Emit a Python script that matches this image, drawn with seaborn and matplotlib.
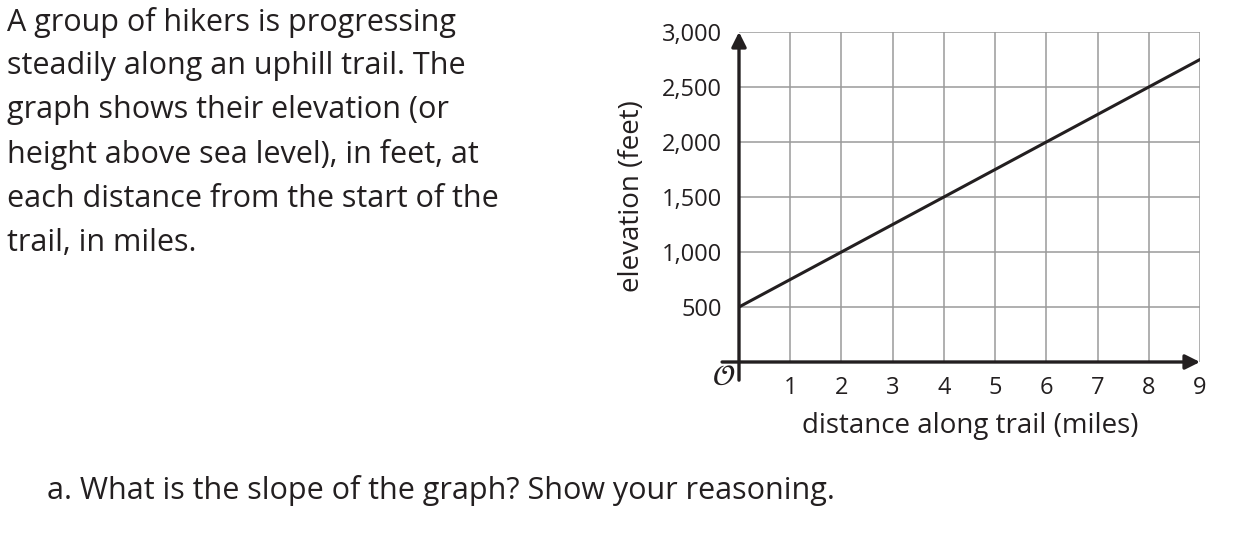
import matplotlib
matplotlib.use("Agg")
import matplotlib.pyplot as plt
import seaborn as sns
import pandas as pd

# Data
distance = [0, 9]
elevation = [500, 2750]
x_ticks = [1, 2, 3, 4, 5, 6, 7, 8, 9]
y_ticks = [500, 1000, 1500, 2000, 2500, 3000]
y_tick_labels = ["500", "1,000", "1,500", "2,000", "2,500", "3,000"]
x_label = "distance along trail (miles)"
y_label = "elevation (feet)"
intro_lines = [
    "A group of hikers is progressing",
    "steadily along an uphill trail. The",
    "graph shows their elevation (or",
    "height above sea level), in feet, at",
    "each distance from the start of the",
    "trail, in miles.",
]
question = "a. What is the slope of the graph? Show your reasoning."

sns.set_style("white")
plt.rcParams['font.family'] = ['Open Sans', 'DejaVu Sans']
TXT = "#231f20"

W, H = 1243, 534
fig = plt.figure(figsize=(W / 100, H / 100), dpi=100)
ax = fig.add_axes([739 / W, 1 - 362 / H, (1200 - 739) / W, (362 - 32) / H])

df = pd.DataFrame({"distance": distance, "elevation": elevation})
sns.lineplot(data=df, x="distance", y="elevation", ax=ax, color=TXT, lw=2.2, zorder=4)

ax.set_xlim(0, 9)
ax.set_ylim(0, 3000)
ax.set_xticks(x_ticks)
ax.set_xticklabels([str(t) for t in x_ticks])
ax.set_yticks(y_ticks)
ax.set_yticklabels(y_tick_labels)
ax.grid(True, color="#9a9a9a", lw=1.1)
for s in ax.spines.values():
    s.set_visible(False)
ax.tick_params(axis="both", length=0, labelsize=17, colors=TXT)
ax.tick_params(axis="x", pad=10)
ax.tick_params(axis="y", pad=12)
ax.set_xlabel(x_label, fontsize=20, color=TXT)
ax.set_ylabel(y_label, fontsize=20, color=TXT)
ax.xaxis.set_label_coords((970 - 739) / (1200 - 739), -(426 - 362) / (362 - 32))
ax.xaxis.label.set_va("center")
ax.yaxis.set_label_coords(-(739 - 632) / (1200 - 739), (362 - 196) / (362 - 32))
ax.yaxis.label.set_va("center")

# axes with arrows
ax.annotate("", xy=(9, 0), xytext=(-0.33, 0),
            arrowprops=dict(arrowstyle="-|>", lw=2.4, color=TXT, mutation_scale=22,
                            shrinkA=0, shrinkB=0),
            annotation_clip=False, zorder=5)
ax.annotate("", xy=(0, 3000), xytext=(0, -165),
            arrowprops=dict(arrowstyle="-|>", lw=2.4, color=TXT, mutation_scale=22,
                            shrinkA=0, shrinkB=0),
            annotation_clip=False, zorder=5)
ax.text(-(739 - 724) / 51.2, -(377 - 362) / 0.11, r"$\mathcal{O}$", fontsize=21,
        color=TXT, ha="center", va="center")

# text blocks
for i, line in enumerate(intro_lines):
    fig.text(7 / W, 1 - (22 + 44.2 * i) / H, line, fontsize=22, color=TXT,
             ha="left", va="center")
fig.text(47 / W, 1 - 490 / H, question, fontsize=22, color=TXT, ha="left", va="center")

fig.savefig("out.png", dpi=100)
